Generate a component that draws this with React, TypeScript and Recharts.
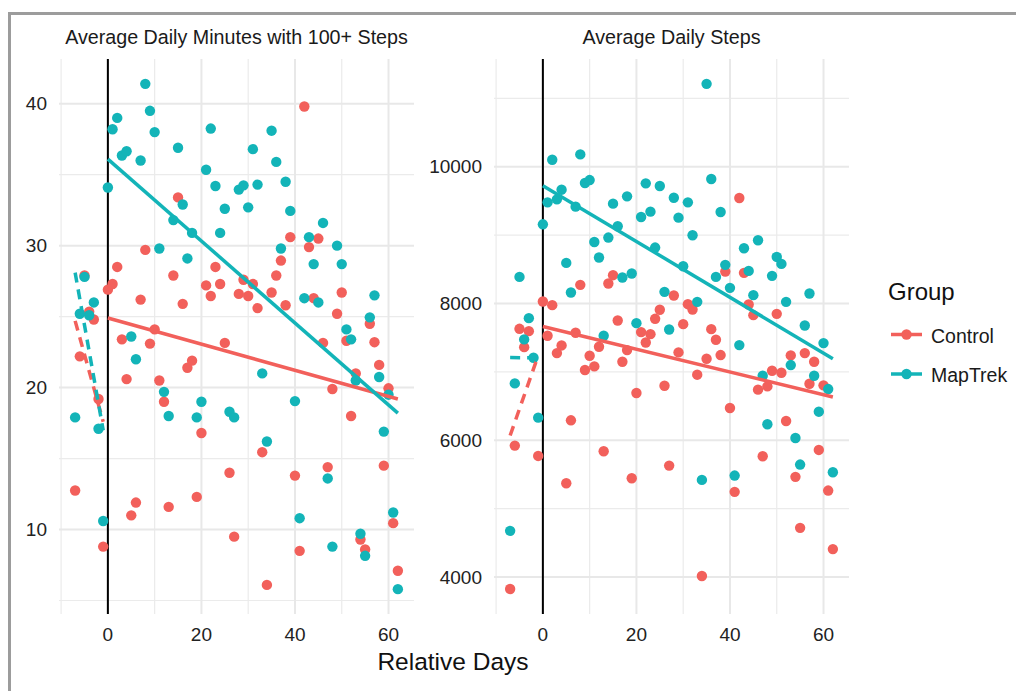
import { ComposedChart, Scatter, XAxis, YAxis, CartesianGrid, ReferenceLine } from "recharts";

// relative day of every observation
const days = [
  -7, -6, -5, -4, -3, -2, -1, 0, 1, 2, 3, 4, 5, 6, 7, 8, 9, 10, 11, 12, 13, 14, 15, 16, 17, 18, 19, 20,
  21, 22, 23, 24, 25, 26, 27, 28, 29, 30, 31, 32, 33, 34, 35, 36, 37, 38, 39, 40, 41, 42, 43, 44, 45,
  46, 47, 48, 49, 50, 51, 52, 53, 54, 55, 56, 57, 58, 59, 60, 61, 62,
];

// Average daily minutes with 100+ steps
const controlMinutes = [
  12.75, 22.2, 27.9, 25.35, 24.8, 19.2, 8.8, 26.9, 27.3, 28.5, 23.4, 20.6, 11.0, 11.9, 26.2, 29.7, 23.1,
  24.1, 20.5, 19.0, 11.6, 27.9, 33.4, 25.9, 21.4, 21.9, 12.3, 16.8, 27.2, 26.45, 28.5, 27.3, 23.15, 14.0,
  9.5, 26.6, 27.6, 26.45, 27.3, 25.6, 15.45, 6.1, 26.7, 27.9, 28.95, 25.8, 30.6, 13.8, 8.5, 39.8, 29.9,
  26.3, 30.5, 23.15, 14.4, 19.9, 25.2, 26.7, 23.3, 18.0, 21.0, 9.3, 8.6, 24.5, 23.2, 21.6, 14.5, 19.95,
  10.45, 7.1,
];
const mapTrekMinutes = [
  17.9, 25.2, 27.8, 25.1, 26.0, 17.1, 10.6, 34.1, 38.2, 39.0, 36.35, 36.65, 23.6, 22.0, 36.0, 41.4, 39.5,
  38.0, 29.8, 19.7, 18.0, 31.8, 36.9, 32.9, 29.1, 30.9, 17.9, 19.0, 35.35, 38.25, 34.2, 30.9, 32.6, 18.3,
  17.9, 33.95, 34.25, 32.7, 36.8, 34.3, 21.0, 16.2, 38.1, 35.9, 29.8, 34.5, 32.45, 19.05, 10.8, 26.3,
  30.6, 28.7, 26.0, 31.6, 13.6, 8.8, 30.0, 28.7, 24.1, 23.4, 20.5, 9.7, 8.15, 24.95, 26.5, 20.75, 16.9,
  19.5, 11.2, 5.8,
];

// Average daily steps
const controlSteps = [
  3825, 5922, 7630, 7362, 7596, null, 5771, 8029, 7528, 7976, 7275, 7387, 5372, 6292, 7572, 8273, 7027,
  7236, 7080, 7367, 5839, 8292, 8414, 7752, 7148, 7319, 5445, 6691, 7582, 7430, 7552, 7776, 7908, 6798,
  5630, 8117, 7285, 7698, 7990, 7912, 6959, 4015, 7192, 7625, 7470, 7246, 8467, 6472, 5246, 9543, 8448,
  7986, 7830, 6740, 5766, 6788, 7017, 7849, 6988, 6282, 7241, 5465, 4720, 7275, 6827, 7148, 5859, 6803,
  5265, 4409,
];
const mapTrekSteps = [
  4676, 6832, 8389, 7475, 7786, 7207, 6331, 9158, 9479, 10102, 9523, 9664, 8594, 8161, 9416, 10180, 9762,
  9805, 8900, 8672, 7528, 8964, 9460, 9129, 8380, 9567, 8438, 7713, 9265, 9757, 9343, 8818, 9718, 8170,
  7620, 9547, 9255, 8545, 9479, 8998, 8024, 5421, 11212, 9820, 8389, 9338, 8565, 8229, 5484, 7392, 8808,
  8477, 8122, 8925, 6944, 6234, 8404, 8681, 8579, 8024, 7100, 6034, 5645, 7679, 8146, 6944, 6418, 7421,
  6749, 5533,
];

// fitted trend ends, before and after day 0
const preDays = [-7, -1];
const postDays = [0, 62];
const controlMinutesPre = [24.7, 17.6];
const controlMinutesPost = [24.9, 19.2];
const mapTrekMinutesPre = [28.1, 17.0];
const mapTrekMinutesPost = [36.1, 18.2];
const controlStepsPre = [6070, 7240];
const controlStepsPost = [7664, 6633];
const mapTrekStepsPre = [7210, 7205];
const mapTrekStepsPost = [9723, 7192];

const dayTicks = [0, 20, 40, 60];
const dayMinor = [-10, 10, 30, 50];
const minuteTicks = [10, 20, 30, 40];
const minuteMinor = [5, 15, 25, 35];
const stepTicks = [4000, 6000, 8000, 10000];
const stepMinor = [5000, 7000, 9000, 11000];

const groups = ["Control", "MapTrek"];
const colors = ["#F2605B", "#13B4B8"];

const FONT = "'Liberation Sans', Arial, Helvetica, sans-serif";

const toPoints = (vals: (number | null)[]) =>
  days.map((d, i) => ({ x: d, y: vals[i] })).filter((p) => p.y !== null);
const toFit = (ys: number[], xs: number[]) => xs.map((d, i) => ({ x: d, y: ys[i] }));

const dot = (color: string) => (props: any) =>
  <circle cx={props.cx} cy={props.cy} r={5.2} fill={color} />;
const noDot = () => <g />;

interface PanelProps {
  plotLeft: number;
  axisWidth: number;
  control: (number | null)[];
  mapTrek: (number | null)[];
  controlPre: number[];
  controlPost: number[];
  mapTrekPre: number[];
  mapTrekPost: number[];
  yDomain: [number, number];
  yTicks: number[];
  yMinor: number[];
}

function Panel(p: PanelProps) {
  const tickStyle = { fontSize: 19, fill: "#222", fontFamily: FONT };
  const fits = [
    { data: toFit(p.controlPre, preDays), color: colors[0], dash: "10 7" },
    { data: toFit(p.mapTrekPre, preDays), color: colors[1], dash: "10 7" },
    { data: toFit(p.controlPost, postDays), color: colors[0], dash: undefined },
    { data: toFit(p.mapTrekPost, postDays), color: colors[1], dash: undefined },
  ];
  return (
    <div style={{ position: "absolute", left: p.plotLeft - p.axisWidth, top: 0 }}>
      <ComposedChart
        width={p.axisWidth + 357}
        height={691}
        margin={{ top: 59, right: 2, bottom: 37, left: 0 }}
      >
        <CartesianGrid horizontalValues={p.yMinor} verticalValues={dayMinor} stroke="#EBEBEB" strokeWidth={1.2} />
        <CartesianGrid horizontalValues={p.yTicks} verticalValues={dayTicks} stroke="#E8E8E8" strokeWidth={2} />
        <XAxis
          type="number"
          dataKey="x"
          domain={[-10.45, 65.45]}
          ticks={dayTicks}
          allowDataOverflow
          axisLine={false}
          tickLine={false}
          tickSize={0}
          tickMargin={14}
          height={40}
          tick={tickStyle}
        />
        <YAxis
          type="number"
          dataKey="y"
          domain={p.yDomain}
          ticks={p.yTicks}
          allowDataOverflow
          axisLine={false}
          tickLine={false}
          tickSize={0}
          tickMargin={12}
          width={p.axisWidth}
          tick={tickStyle}
        />
        <Scatter data={toPoints(p.control)} fill={colors[0]} shape={dot(colors[0])} isAnimationActive={false} />
        <Scatter data={toPoints(p.mapTrek)} fill={colors[1]} shape={dot(colors[1])} isAnimationActive={false} />
        <ReferenceLine x={0} stroke="#000" strokeWidth={2} />
        {fits.map((f, i) => (
          <Scatter
            key={i}
            data={f.data}
            shape={noDot}
            line={{ stroke: f.color, strokeWidth: 3.5, strokeDasharray: f.dash }}
            isAnimationActive={false}
          />
        ))}
      </ComposedChart>
    </div>
  );
}

export default function App() {
  return (
    <div
      style={{
        position: "absolute",
        left: 0,
        top: 0,
        width: 1016,
        height: 691,
        background: "#fff",
        overflow: "hidden",
        fontFamily: FONT,
      }}
    >
      <Panel
        plotLeft={59}
        axisWidth={60}
        control={controlMinutes}
        mapTrek={mapTrekMinutes}
        controlPre={controlMinutesPre}
        controlPost={controlMinutesPost}
        mapTrekPre={mapTrekMinutesPre}
        mapTrekPost={mapTrekMinutesPost}
        yDomain={[4.05, 43.15]}
        yTicks={minuteTicks}
        yMinor={minuteMinor}
      />
      <Panel
        plotLeft={494}
        axisWidth={80}
        control={controlSteps}
        mapTrek={mapTrekSteps}
        controlPre={controlStepsPre}
        controlPost={controlStepsPost}
        mapTrekPre={mapTrekStepsPre}
        mapTrekPost={mapTrekStepsPost}
        yDomain={[3460, 11575]}
        yTicks={stepTicks}
        yMinor={stepMinor}
      />
      <svg
        width={1016}
        height={691}
        style={{ position: "absolute", left: 0, top: 0, pointerEvents: "none" }}
        fontFamily={FONT}
      >
        <rect x={8} y={12} width={1008} height={3} fill="#9C9C9C" />
        <rect x={8} y={12} width={3} height={679} fill="#9C9C9C" />
        <text x={236.5} y={44} fontSize={19.7} textAnchor="middle" fill="#1a1a1a">
          Average Daily Minutes with 100+ Steps
        </text>
        <text x={671.5} y={44} fontSize={19.7} textAnchor="middle" fill="#1a1a1a">
          Average Daily Steps
        </text>
        <text x={453} y={670} fontSize={24.5} textAnchor="middle" fill="#111">
          Relative Days
        </text>
        <text x={888} y={300} fontSize={24} fill="#111">
          Group
        </text>
        {groups.map((g, i) => (
          <g key={g}>
            <line x1={891} x2={922} y1={334.5 + i * 39.5} y2={334.5 + i * 39.5} stroke={colors[i]} strokeWidth={3.5} />
            <circle cx={906.5} cy={334.5 + i * 39.5} r={5.2} fill={colors[i]} />
            <text x={931} y={342.5 + i * 39} fontSize={19.5} fill="#1a1a1a">
              {g}
            </text>
          </g>
        ))}
      </svg>
    </div>
  );
}
